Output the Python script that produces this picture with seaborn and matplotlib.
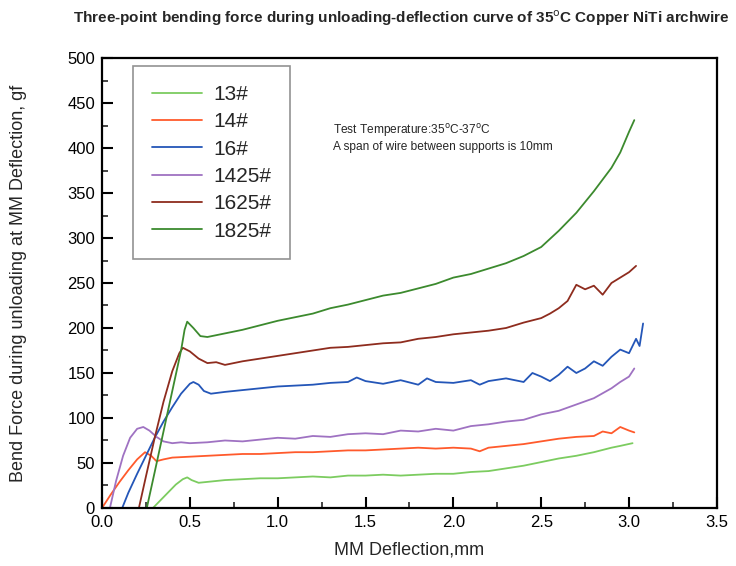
import numpy as np
import pandas as pd
import matplotlib
matplotlib.use("Agg")
import matplotlib.pyplot as plt
import seaborn as sns
from matplotlib.ticker import MultipleLocator

# ---------------- data ----------------
x13 = [0.29, 0.33, 0.38, 0.42, 0.46, 0.485, 0.51, 0.55, 0.60, 0.70, 0.80, 0.90, 1.00, 1.10, 1.20, 1.30,
       1.40, 1.50, 1.60, 1.70, 1.80, 1.90, 2.00, 2.10, 2.20, 2.30, 2.40, 2.50, 2.60, 2.70, 2.80, 2.90, 2.95, 3.02]
y13 = [0, 8, 18, 26, 32, 34, 31, 28, 29, 31, 32, 33, 33, 34, 35, 34,
       36, 36, 37, 36, 37, 38, 38, 40, 41, 44, 47, 51, 55, 58, 62, 67, 69, 72]

x14 = [0.0, 0.05, 0.10, 0.15, 0.20, 0.245, 0.28, 0.31, 0.35, 0.40, 0.50, 0.60, 0.70, 0.80, 0.90, 1.0,
       1.1, 1.2, 1.3, 1.4, 1.5, 1.6, 1.7, 1.8, 1.9, 2.0, 2.1, 2.15, 2.2, 2.3, 2.4, 2.5, 2.6, 2.7, 2.8,
       2.85, 2.9, 2.95, 3.0, 3.03]
y14 = [0, 15, 29, 42, 54, 62, 58, 52, 54, 56, 57, 58, 59, 60, 60, 61,
       62, 62, 63, 64, 64, 65, 66, 67, 66, 67, 66, 63, 67, 69, 71, 74, 77, 79, 80,
       85, 83, 90, 86, 84]

x16 = [0.115, 0.15, 0.20, 0.25, 0.30, 0.35, 0.40, 0.45, 0.50, 0.52, 0.55, 0.58, 0.62, 0.70, 0.80, 0.90,
       1.00, 1.10, 1.20, 1.30, 1.40, 1.45, 1.50, 1.60, 1.70, 1.80, 1.85, 1.90, 2.00, 2.10, 2.15, 2.20,
       2.30, 2.40, 2.45, 2.50, 2.55, 2.60, 2.65, 2.70, 2.75, 2.80, 2.85, 2.90, 2.95, 3.00, 3.04, 3.06, 3.08]
y16 = [0, 17, 38, 58, 78, 96, 112, 127, 138, 140, 137, 130, 127, 129, 131, 133,
       135, 136, 137, 139, 140, 145, 141, 138, 142, 137, 144, 140, 139, 142, 137, 141,
       144, 140, 150, 146, 141, 148, 157, 150, 155, 163, 158, 168, 176, 172, 188, 180, 205]

x1425 = [0.045, 0.08, 0.12, 0.16, 0.20, 0.235, 0.27, 0.31, 0.35, 0.40, 0.45, 0.50, 0.60, 0.70, 0.80, 0.90,
         1.0, 1.1, 1.2, 1.3, 1.4, 1.5, 1.6, 1.7, 1.8, 1.9, 2.0, 2.1, 2.2, 2.3, 2.4, 2.5, 2.6, 2.7, 2.8,
         2.9, 2.95, 3.0, 3.03]
y1425 = [0, 30, 58, 78, 88, 90, 86, 79, 74, 72, 73, 72, 73, 75, 74, 76,
         78, 77, 80, 79, 82, 83, 82, 86, 85, 88, 86, 91, 93, 96, 98, 104, 108, 115, 122,
         133, 140, 146, 155]

x1625 = [0.21, 0.25, 0.30, 0.35, 0.40, 0.44, 0.46, 0.50, 0.55, 0.60, 0.65, 0.70, 0.80, 0.90, 1.00, 1.10,
         1.20, 1.30, 1.40, 1.50, 1.60, 1.70, 1.80, 1.90, 2.00, 2.10, 2.20, 2.30, 2.40, 2.50, 2.55, 2.60,
         2.65, 2.70, 2.75, 2.80, 2.85, 2.90, 2.95, 3.00, 3.04]
y1625 = [0, 35, 78, 118, 152, 172, 178, 174, 166, 161, 162, 159, 163, 166, 169, 172,
         175, 178, 179, 181, 183, 184, 188, 190, 193, 195, 197, 200, 206, 211, 216, 222,
         230, 248, 243, 247, 237, 250, 256, 262, 269]

x1825 = [0.255, 0.30, 0.35, 0.40, 0.45, 0.47, 0.485, 0.52, 0.56, 0.60, 0.65, 0.70, 0.80, 0.90, 1.00, 1.10,
         1.20, 1.30, 1.40, 1.50, 1.60, 1.70, 1.80, 1.90, 2.00, 2.10, 2.20, 2.30, 2.40, 2.50, 2.60, 2.70,
         2.80, 2.90, 2.95, 3.00, 3.03]
y1825 = [0, 40, 85, 130, 175, 198, 207, 200, 191, 190, 192, 194, 198, 203, 208, 212,
         216, 222, 226, 231, 236, 239, 244, 249, 256, 260, 266, 272, 280, 290, 308, 328,
         352, 378, 395, 418, 431]

series_names = ["13#", "14#", "16#", "1425#", "1625#", "1825#"]
series_x = [x13, x14, x16, x1425, x1625, x1825]
series_y = [y13, y14, y16, y1425, y1625, y1825]
colors = ["#7ccc60", "#ff5a2c", "#2456b8", "#9f72c2", "#8e2c1e", "#3c8a2e"]

x_ticks = [0.0, 0.5, 1.0, 1.5, 2.0, 2.5, 3.0, 3.5]
y_ticks = [0, 50, 100, 150, 200, 250, 300, 350, 400, 450, 500]

rows = []
for name, xs, ys in zip(series_names, series_x, series_y):
    for a, b in zip(xs, ys):
        rows.append((name, a, b))
df = pd.DataFrame(rows, columns=["sample", "x", "y"])

# ---------------- plot ----------------
sns.set_style("white")
plt.rcParams["font.family"] = ["Liberation Sans", "DejaVu Sans"]

fig = plt.figure(figsize=(7.36, 5.66), dpi=100)
ax = fig.add_axes([0.1386, 0.1025, 0.8354, 0.795])

sns.lineplot(data=df, x="x", y="y", hue="sample", hue_order=series_names,
             palette=dict(zip(series_names, colors)), estimator=None, sort=False,
             linewidth=1.3, ax=ax)

ax.set_xlim(0, 3.5)
ax.set_ylim(0, 500)
ax.set_xticks(x_ticks)
ax.set_xticklabels([f"{v:.1f}" for v in x_ticks])
ax.set_yticks(y_ticks)
ax.xaxis.set_minor_locator(MultipleLocator(0.25))
ax.yaxis.set_minor_locator(MultipleLocator(25))
ax.tick_params(axis="both", which="major", direction="in", length=8, width=1.5,
               labelsize=12, colors="black", pad=5)
ax.tick_params(axis="both", which="minor", direction="in", length=4, width=1.2)
ax.tick_params(bottom=True, left=True, which="both")
for s in ax.spines.values():
    s.set_linewidth(1.6)
    s.set_color("black")

ax.set_xlabel("MM Deflection,mm", fontsize=13, labelpad=8)
ax.set_ylabel("Bend Force during unloading at MM Deflection, gf", fontsize=13)
ax.yaxis.set_label_coords(-0.122, 0.5)

leg = ax.legend(loc="upper left", bbox_to_anchor=(0.05, 0.982), fontsize=15,
                frameon=True, fancybox=False, handlelength=2.4, handletextpad=0.55,
                labelspacing=0.4, borderpad=0.9, borderaxespad=0.0)
leg.get_frame().set_edgecolor("#777777")
leg.get_frame().set_linewidth(1.2)
leg.set_title(None)

ax.text(0.375, 0.858, "Test Temperature:35$^{\\rm o}$C-37$^{\\rm o}$C\nA span of wire between supports is 10mm",
        transform=ax.transAxes, fontsize=8.6, va="top", ha="left", linespacing=1.25)

fig.text(0.545, 0.968, "Three-point bending force during unloading-deflection curve of 35$^{\\rm o}$C Copper NiTi archwire",
         ha="center", va="center", fontsize=11, fontweight="bold")

fig.savefig("out.png", dpi=100)
